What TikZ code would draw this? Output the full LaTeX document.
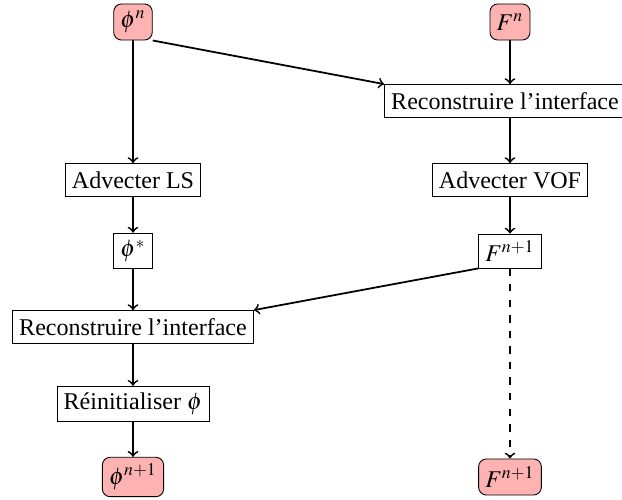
\documentclass[tikz,border=0pt]{standalone}
\usepackage{mathptmx}
\usepackage{fontspec}
\setmainfont{Liberation Serif}
\usetikzlibrary{positioning}
\definecolor{StartRed}{RGB}{255,178,178}

\begin{document}
\begin{tikzpicture}[
        x=0.0158cm, y=-0.0158cm,
        step box/.style={
            draw,
            fill=white,
            rectangle,
            inner sep=3pt,
            minimum height=0.52cm,
            font=\fontsize{10.8}{13}\selectfont
        },
        state box/.style={
            step box,
            fill=StartRed,
            rounded corners=3.5pt,
            minimum height=0.57cm,
            minimum width=0.6cm
        },
        flow/.style={->, line width=0.8pt}
    ]
        \useasboundingbox (0,0) rectangle (622,500);

        % colonne level set
        \node[state box] (phin) at (133,22) {$\phi^n$};
        \node[step box] (advls) at (133,180) {Advecter LS};
        \node[step box] (phistar) at (133,251) {$\phi^*$};
        \node[step box] (reconls) at (133,327) {Reconstruire l’interface};
        \node[step box] (reinit) at (133,404) {Réinitialiser $\phi$};
        \node[state box] (phinn) at (133,477) {$\phi^{n+1}$};

        % colonne VOF
        \node[state box] (fn) at (510,22) {$F^n$};
        \node[step box] (reconvof) at (505,101) {Reconstruire l’interface};
        \node[step box] (advvof) at (510,180) {Advecter VOF};
        \node[step box] (fstar) at (510,251) {$F^{n+1}$};
        \node[state box] (fnn) at (510,477) {$F^{n+1}$};

        \draw[flow] (phin) -- (advls);
        \draw[flow] (advls) -- (phistar);
        \draw[flow] (phistar) -- (reconls);
        \draw[flow] (reconls) -- (reinit);
        \draw[flow] (reinit) -- (phinn);

        \draw[flow] (fn) -- (fn |- reconvof.north);
        \draw[flow] (reconvof.south -| fn) -- (advvof);
        \draw[flow] (advvof) -- (fstar);
        \draw[flow, dash pattern=on 3.3pt off 3.7pt] (fstar) -- (fnn);

        \draw[flow] (phin.south east) -- (reconvof.north west);
        \draw[flow] (fstar.south west) -- (reconls.north east);
    \end{tikzpicture}
\end{document}
